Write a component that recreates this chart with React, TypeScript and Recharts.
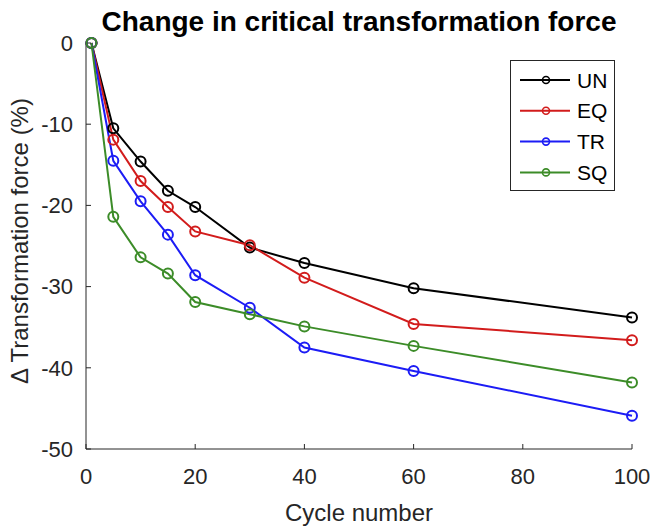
import React from 'react';
import { LineChart, Line, XAxis, YAxis } from 'recharts';

// Cycle numbers at which the force was measured
const cycles = [1, 5, 10, 15, 20, 30, 40, 60, 100];

// Change in critical transformation force (%) per specimen type
const un = [0, -10.5, -14.6, -18.2, -20.2, -25.2, -27.1, -30.2, -33.8];
const eq = [0, -11.9, -17.0, -20.2, -23.2, -24.9, -28.9, -34.6, -36.6];
const tr = [0, -14.5, -19.5, -23.6, -28.6, -32.6, -37.5, -40.4, -45.9];
const sq = [0, -21.4, -26.4, -28.4, -31.9, -33.4, -34.9, -37.3, -41.8];

const xTicks = [0, 20, 40, 60, 80, 100];
const yTicks = [0, -10, -20, -30, -40, -50];

const seriesNames = ['UN', 'EQ', 'TR', 'SQ'];
const seriesKeys = ['un', 'eq', 'tr', 'sq'];
const seriesColors = ['#000000', '#d21c1c', '#1c1cf5', '#3c8c28'];

const data = cycles.map((c, i) => ({
  cycle: c,
  un: un[i],
  eq: eq[i],
  tr: tr[i],
  sq: sq[i],
}));

const FONT = '"Liberation Sans", Arial, Helvetica, sans-serif';
const AXIS = '#262626';
const W = 654;
const H = 526;

const hide = () => '';

export default function App() {
  return (
    <div style={{ position: 'absolute', left: 0, top: 0, width: W, height: H, fontFamily: FONT }}>
      <LineChart
        width={W}
        height={H}
        data={data}
        margin={{ top: 43, right: 22, bottom: 0, left: 0 }}
      >
        <XAxis
          dataKey="cycle"
          type="number"
          domain={[0, 100]}
          ticks={xTicks}
          height={77}
          tickSize={-5}
          tickMargin={24}
          stroke={AXIS}
          axisLine={{ stroke: AXIS, strokeWidth: 1 }}
          tickLine={{ stroke: AXIS }}
          tick={{ fill: AXIS, fontSize: 22, fontFamily: FONT }}
        />
        <XAxis
          xAxisId="top"
          orientation="top"
          dataKey="cycle"
          type="number"
          domain={[0, 100]}
          ticks={xTicks}
          height={0}
          tickSize={-5}
          tickFormatter={hide}
          stroke={AXIS}
          axisLine={{ stroke: AXIS, strokeWidth: 1 }}
          tickLine={{ stroke: AXIS }}
        />
        <YAxis
          type="number"
          domain={[-50, 0]}
          ticks={yTicks}
          width={86}
          tickSize={-5}
          tickMargin={18}
          stroke={AXIS}
          axisLine={{ stroke: AXIS, strokeWidth: 1 }}
          tickLine={{ stroke: AXIS }}
          tick={{ fill: AXIS, fontSize: 22, fontFamily: FONT }}
        />
        <YAxis
          yAxisId="right"
          orientation="right"
          type="number"
          domain={[-50, 0]}
          ticks={yTicks}
          width={0}
          tickSize={-5}
          tickFormatter={hide}
          stroke={AXIS}
          axisLine={{ stroke: AXIS, strokeWidth: 1 }}
          tickLine={{ stroke: AXIS }}
        />
        {seriesKeys.map((k, i) => (
          <Line
            key={k}
            dataKey={k}
            name={seriesNames[i]}
            stroke={seriesColors[i]}
            strokeWidth={2}
            dot={{ r: 5, fill: 'none', stroke: seriesColors[i], strokeWidth: 2, clipDot: false }}
            isAnimationActive={false}
          />
        ))}
      </LineChart>

      {/* Title, axis titles and legend */}
      <svg
        width={W}
        height={H}
        style={{ position: 'absolute', left: 0, top: 0, pointerEvents: 'none' }}
        fontFamily={FONT}
      >
        <text x={359} y={31} textAnchor="middle" fontSize={28} fontWeight="bold" fill="#000">
          Change in critical transformation force
        </text>
        <text x={359} y={521} textAnchor="middle" fontSize={24} fill={AXIS}>
          Cycle number
        </text>
        <text
          x={28}
          y={241}
          textAnchor="middle"
          fontSize={24}
          fill={AXIS}
          transform="rotate(-90 28 241)"
        >
          Δ Transformation force (%)
        </text>

        <rect x={510.5} y={60.5} width={104} height={130} fill="#fff" stroke={AXIS} strokeWidth={1} />
        {seriesNames.map((n, i) => {
          const cy = 80 + i * 30.8;
          return (
            <g key={n}>
              <line x1={520} x2={570} y1={cy} y2={cy} stroke={seriesColors[i]} strokeWidth={2} />
              <circle cx={546} cy={cy} r={3.5} fill="none" stroke={seriesColors[i]} strokeWidth={1.6} />
              <text x={577} y={cy + 7.5} fontSize={21} fill="#000">
                {n}
              </text>
            </g>
          );
        })}
      </svg>
    </div>
  );
}
